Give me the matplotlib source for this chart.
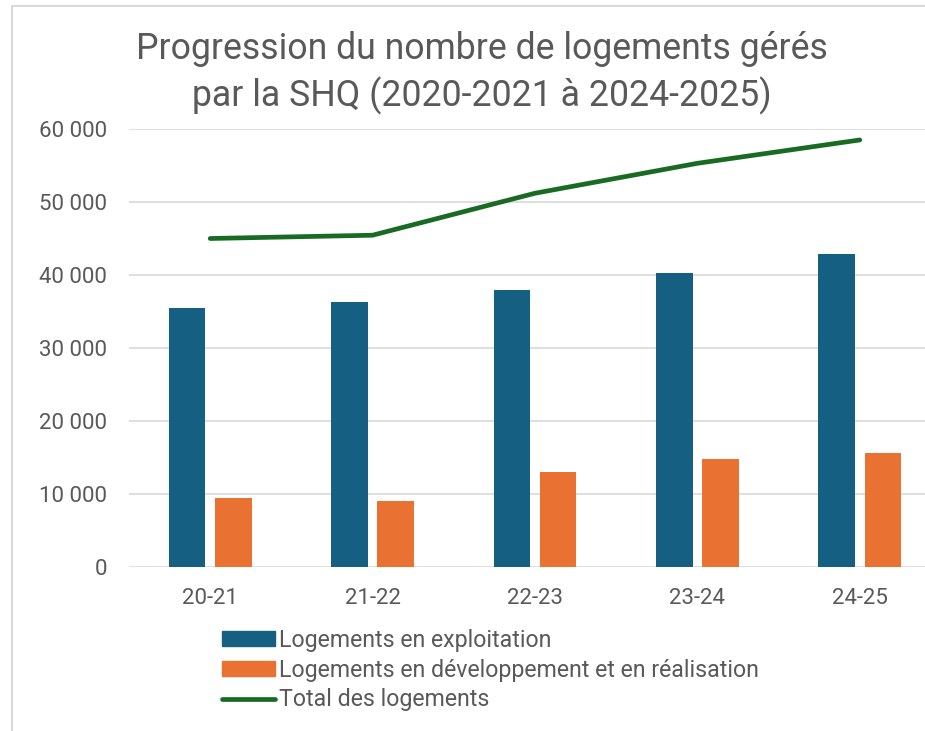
import matplotlib
matplotlib.use("Agg")
import matplotlib.pyplot as plt
import numpy as np
from matplotlib.patches import Patch, Rectangle
from matplotlib.lines import Line2D
from matplotlib.ticker import FuncFormatter

categories = ["20-21", "21-22", "22-23", "23-24", "24-25"]
exploitation = [35500, 36300, 37900, 40300, 42850]
developpement = [9400, 9000, 13050, 14850, 15550]
total = [45000, 45450, 51200, 55300, 58500]

title = "Progression du nombre de logements gérés\npar la SHQ (2020-2021 à 2024-2025)"
labels = ["Logements en exploitation",
          "Logements en développement et en réalisation",
          "Total des logements"]

BLUE, ORANGE, GREEN = "#156082", "#E97132", "#196B24"
GRID, TXT = "#D9D9D9", "#595959"

plt.rcParams["font.family"] = ["Roboto", "DejaVu Sans"]

fig = plt.figure(figsize=(9.25, 7.31), dpi=100)
ax = fig.add_axes([129 / 925, 1 - 567 / 731, 812 / 925, 438 / 731])

x = np.arange(len(categories))
w, off = 0.225, 0.142
ax.bar(x - off, exploitation, w, color=BLUE, zorder=2)
ax.bar(x + off, developpement, w, color=ORANGE, zorder=2)
ax.plot(x, total, color=GREEN, lw=3.4, solid_capstyle="round", zorder=3)

ax.set_xlim(-0.5, len(categories) - 0.5)
ax.set_ylim(0, 60000)
ax.set_yticks(range(0, 60001, 10000))
ax.yaxis.set_major_formatter(FuncFormatter(lambda v, p: f"{int(v):,}".replace(",", " ")))
ax.set_xticks(x, categories)
ax.grid(axis="y", color=GRID, lw=1.2, zorder=0)
for s in ax.spines.values():
    s.set_visible(False)
ax.tick_params(axis="both", length=0, labelsize=16, colors=TXT)
ax.tick_params(axis="y", pad=16)
ax.tick_params(axis="x", pad=15)

fig.text(482 / 925, 1 - 73 / 731, title, ha="center", va="center",
         fontsize=25.7, color=TXT, linespacing=1.32)

handles = [Patch(color=BLUE), Patch(color=ORANGE),
           Line2D([], [], color=GREEN, lw=3.4, solid_capstyle="round")]
fig.legend(handles, labels, loc="center left", bbox_to_anchor=(222 / 925, 1 - 670 / 731),
           frameon=False, fontsize=16.7, labelcolor=TXT, handlelength=2.3, handleheight=0.65,
           handletextpad=0.15, labelspacing=0.3, borderpad=0, borderaxespad=0)

# chart frame (light border on left and top)
fig.add_artist(Rectangle((12 / 925, -0.1), 1.2, 1.1 - 6 / 731, transform=fig.transFigure,
                         fill=False, edgecolor=GRID, lw=1.5))

fig.savefig("out.png", dpi=100)
